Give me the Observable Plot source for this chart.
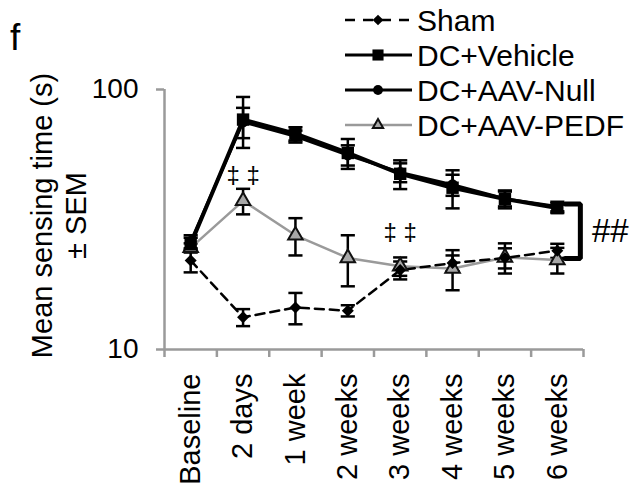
<!DOCTYPE html>
<html><head><meta charset="utf-8">
<script src="https://cdn.jsdelivr.net/npm/d3@7"></script>
<script src="https://cdn.jsdelivr.net/npm/@observablehq/plot@0.6"></script>
<style>
body{margin:0;background:#fff;}
#wrap{position:relative;width:635px;height:488px;font-family:"Liberation Sans",Arial,sans-serif;}
#wrap svg{position:absolute;left:0;top:0;overflow:visible}
</style></head><body><div id="wrap"></div>
<script>
// ---- data ----
const categories = ["Baseline","2 days","1 week","2 weeks","3 weeks","4 weeks","5 weeks","6 weeks"];
const seriesNames = ["Sham","DC+Vehicle","DC+AAV-Null","DC+AAV-PEDF"];
const shamMean = [22.0, 13.3, 14.5, 14.1, 20.2, 21.5, 22.5, 24.0];
const shamSem  = [2.2, 1.0, 2.0, 0.7, 1.6, 1.5, 2.0, 1.5];
const vehicleMean = [25.4, 76.6, 67.6, 57.0, 47.4, 41.9, 37.9, 35.0];
const vehicleSem  = [1.5, 17.0, 4.0, 7.5, 6.0, 7.0, 3.0, 1.5];
const nullMean = [26.0, 75.0, 66.0, 56.0, 48.0, 43.0, 38.0, 35.5];
const nullSem  = [1.5, 10.0, 3.5, 5.0, 4.0, 4.0, 2.5, 1.5];
const pedfMean = [24.6, 37.3, 27.5, 22.5, 20.9, 20.5, 22.6, 22.1];
const pedfSem  = [1.0, 4.2, 4.5, 5.0, 1.7, 3.6, 3.0, 2.5];
const yTicks = [10, 100];
const daggerCats = ["2 days", "3 weeks"];
const daggerY = [46.7, 28.2];
const daggerText = "\u2021 \u2021";
const bracketTop = 36.3, bracketBottom = 22.4;
const bracketText = "##";
const yTitle = ["Mean sensing time (s)", "\u00b1 SEM"];
const panelLabel = "f";

// ---- build table ----
const means = [shamMean, vehicleMean, nullMean, pedfMean];
const sems = [shamSem, vehicleSem, nullSem, pedfSem];
const rows = [];
seriesNames.forEach((s, k) => categories.forEach((c, i) => rows.push({
  series: s, i, cat: c, mean: means[k][i], lo: means[k][i] - sems[k][i], hi: means[k][i] + sems[k][i]
})));
const styles = {
  "Sham": {stroke: "black", strokeWidth: 2.5, dash: "9,6", symbol: "diamond2", r: 5.4, fill: "black", mstroke: "none"},
  "DC+Vehicle": {stroke: "black", strokeWidth: 4, dash: null, symbol: "square", r: 7, fill: "black", mstroke: "none"},
  "DC+AAV-Null": {stroke: "black", strokeWidth: 3, dash: null, symbol: "circle", r: 5.5, fill: "black", mstroke: "none"},
  "DC+AAV-PEDF": {stroke: "#9a9a9a", strokeWidth: 2.5, dash: null, symbol: "triangle", r: 5.4, fill: "#a8a8a8", mstroke: "#111"}
};
const idx = c => categories.indexOf(c);
const n = categories.length;
const xDomain = [-0.5, n - 0.5];
const boundaries = d3.range(n + 1).map(k => k - 0.5);
const grey = "#9a9a9a";
const cap = 0.135;

const lineOrder = ["DC+AAV-PEDF", "Sham", "DC+AAV-Null", "DC+Vehicle"];
const marks = [
  // axes
  Plot.ruleX([xDomain[0]], {y1: yTicks[0], y2: yTicks[1], stroke: grey, strokeWidth: 2.5}),
  Plot.ruleY([yTicks[0]], {x1: xDomain[0], x2: xDomain[1], stroke: grey, strokeWidth: 2.5}),
  Plot.axisY(yTicks, {tickSize: 8, tickPadding: 18, fontSize: 28, stroke: grey, strokeWidth: 2.5, tickFormat: d => String(d), label: null}),
  Plot.axisX(boundaries, {tickSize: 8, tickFormat: () => "", stroke: grey, strokeWidth: 2.5, label: null}),
  Plot.axisX(d3.range(n), {tickSize: 0, tickRotate: -90, tickPadding: 24, fontSize: 29, tickFormat: i => categories[i], label: null}),
  // y title
  Plot.text([yTitle[0]], {frameAnchor: "left", textAnchor: "middle", rotate: -90, dx: -122, dy: -4, fontSize: 29}),
  Plot.text([yTitle[1]], {frameAnchor: "left", textAnchor: "middle", rotate: -90, dx: -88, dy: -4, fontSize: 29}),
  // error bars
  Plot.ruleX(rows, {x: "i", y1: "lo", y2: "hi", stroke: "black", strokeWidth: 2.5}),
  Plot.link(rows, {x1: d => d.i - cap, x2: d => d.i + cap, y1: "hi", y2: "hi", stroke: "black", strokeWidth: 2.5}),
  Plot.link(rows, {x1: d => d.i - cap, x2: d => d.i + cap, y1: "lo", y2: "lo", stroke: "black", strokeWidth: 2.5}),
  // lines
  ...lineOrder.map(s => Plot.line(rows.filter(d => d.series === s), {
    x: "i", y: "mean", stroke: styles[s].stroke, strokeWidth: styles[s].strokeWidth,
    strokeDasharray: styles[s].dash || undefined
  })),
  // markers
  ...lineOrder.map(s => Plot.dot(rows.filter(d => d.series === s), {
    x: "i", y: "mean", symbol: styles[s].symbol, r: styles[s].r, fill: styles[s].fill,
    stroke: styles[s].mstroke, strokeWidth: 2
  })),
  // dagger annotations
  Plot.text(daggerCats.map((c, k) => ({x: idx(c), y: daggerY[k]})), {x: "x", y: "y", text: () => daggerText, fontSize: 24}),
  // bracket
  Plot.line([
    {x: n - 1 + 0.15, y: bracketTop}, {x: n - 1 + 0.44, y: bracketTop},
    {x: n - 1 + 0.44, y: bracketBottom}, {x: n - 1 + 0.15, y: bracketBottom}
  ], {x: "x", y: "y", stroke: "black", strokeWidth: 5, strokeLinejoin: "miter", curve: "linear"}),
  Plot.text([{x: n - 1 + 0.66, y: Math.sqrt(bracketTop * bracketBottom)}], {x: "x", y: "y", text: () => bracketText, textAnchor: "start", fontSize: 33})
];

const chart = Plot.plot({
  width: 635, height: 488,
  marginLeft: 164, marginRight: 52, marginTop: 89, marginBottom: 139,
  x: {type: "linear", domain: xDomain},
  y: {type: "log", domain: [yTicks[0], yTicks[1]]},
  style: {fontFamily: "Liberation Sans, Arial, sans-serif", background: "white", color: "black"},
  marks
});
const wrap = document.getElementById("wrap");
wrap.appendChild(chart);

// ---- overlay: panel label + legend ----
const ov = d3.select(wrap).append("svg").attr("width", 635).attr("height", 488)
  .style("font-family", "Liberation Sans, Arial, sans-serif").style("pointer-events", "none");
ov.append("text").attr("x", 10).attr("y", 50).attr("font-size", 37).text(panelLabel);
const legY = [20, 55, 90, 125];
const symMap = {square: d3.symbolSquare, circle: d3.symbolCircle, diamond2: d3.symbolDiamond2, triangle: d3.symbolTriangle};
seriesNames.forEach((s, k) => {
  const st = styles[s];
  const g = ov.append("g").attr("transform", `translate(0,${legY[k]})`);
  const isPedf = s === "DC+AAV-PEDF";
  g.append("line").attr("x1", 345).attr("x2", 412).attr("y1", 0).attr("y2", 0)
    .attr("stroke", st.stroke).attr("stroke-width", Math.min(st.strokeWidth, 3))
    .attr("stroke-dasharray", st.dash ? "10,8" : null);
  g.append("path").attr("transform", "translate(378,0)")
    .attr("d", d3.symbol(symMap[st.symbol], st.r * st.r * Math.PI * (isPedf ? 0.5 : 0.8))())
    .attr("fill", st.fill).attr("stroke", st.mstroke).attr("stroke-width", 2);
  g.append("text").attr("x", 417).attr("y", 0).attr("dy", "0.35em").attr("font-size", 30).text(s);
});
</script></body></html>
